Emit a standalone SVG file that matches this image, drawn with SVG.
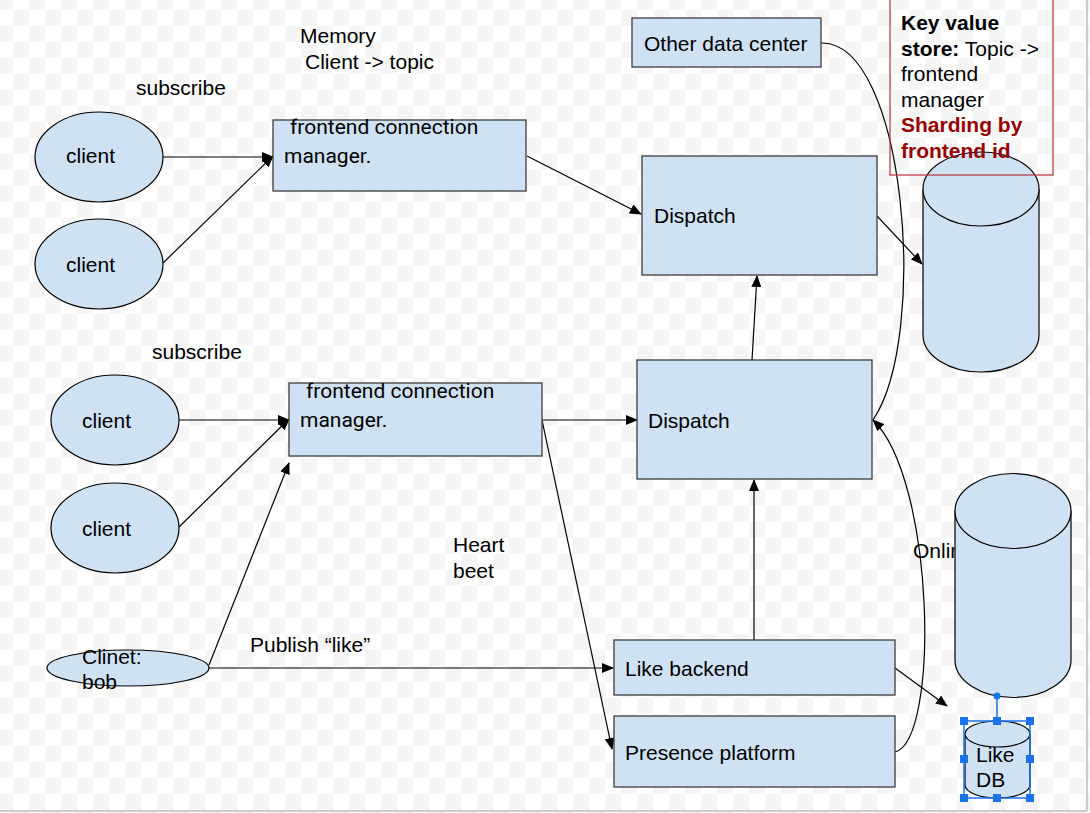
<svg xmlns="http://www.w3.org/2000/svg" width="1090" height="813" viewBox="0 0 1090 813">
<defs>
<pattern id="chk" x="-3" y="-6" width="32" height="32" patternUnits="userSpaceOnUse">
<rect width="32" height="32" fill="#ffffff"/>
<rect width="16" height="16" fill="#f5f5f5"/>
<rect x="16" y="16" width="16" height="16" fill="#f5f5f5"/>
</pattern>
<marker id="arr" markerWidth="12" markerHeight="10" refX="11" refY="5" orient="auto" markerUnits="userSpaceOnUse">
<path d="M0,0 L12,5 L0,10 Z" fill="#000"/>
</marker>
</defs>
<style>
.t{font-family:"Liberation Sans",Arial,sans-serif;font-size:21px;fill:#000}
.r{font-family:Roboto,"Liberation Sans",sans-serif;font-size:21px;fill:#000}
.box{fill:#cfe2f3;stroke:#3c3c3c;stroke-width:1.3}
.el{fill:#cfe2f3;stroke:#000;stroke-width:1.2}
.c{fill:none;stroke:#000;stroke-width:1.2}
.h{fill:#1a73e8}
</style>
<rect width="1090" height="813" fill="url(#chk)"/>
<line x1="1087" y1="0" x2="1087" y2="811" stroke="#bdbdbd" stroke-width="1.5"/>
<line x1="0" y1="811" x2="1087" y2="811" stroke="#bdbdbd" stroke-width="1.5"/>

<g id="labels">
<text class="t" x="300" y="43">Memory</text>
<text class="t" x="305" y="69">Client -&gt; topic</text>
<text class="t" x="136" y="95">subscribe</text>
<text class="t" x="152" y="359">subscribe</text>
<text class="t" x="453" y="552">Heart</text>
<text class="t" x="453" y="578">beet</text>
<text class="t" x="250" y="652">Publish “like”</text>
<text class="t" x="913" y="558">Online</text>
</g>

<g id="connectors">
<line class="c" x1="163" y1="157" x2="273" y2="157" marker-end="url(#arr)"/>
<line class="c" x1="163" y1="263" x2="273" y2="156" marker-end="url(#arr)"/>
<line class="c" x1="527" y1="156" x2="641" y2="214" marker-end="url(#arr)"/>
<line class="c" x1="877" y1="216" x2="922" y2="264" marker-end="url(#arr)"/>
<line class="c" x1="179" y1="420" x2="289" y2="420" marker-end="url(#arr)"/>
<line class="c" x1="179" y1="527" x2="289" y2="419" marker-end="url(#arr)"/>
<line class="c" x1="542" y1="420" x2="637" y2="420" marker-end="url(#arr)"/>
<line class="c" x1="752" y1="360" x2="757" y2="276" marker-end="url(#arr)"/>
<line class="c" x1="542" y1="420" x2="612" y2="749" marker-end="url(#arr)"/>
<line class="c" x1="209" y1="668" x2="613" y2="668" marker-end="url(#arr)"/>
<line class="c" x1="209" y1="665" x2="289" y2="463" marker-end="url(#arr)"/>
<line class="c" x1="754" y1="640" x2="754" y2="480" marker-end="url(#arr)"/>
<line class="c" x1="895" y1="668" x2="947" y2="706" marker-end="url(#arr)"/>
<path class="c" d="M821,43 C905,40 930,335 873,420"/>
<path class="c" d="M895,752 C940,740 935,480 873,420" marker-end="url(#arr)"/>
</g>

<g id="online-db">
<path class="el" d="M955,511 L955,660 A58,37.5 0 0 0 1071,660 L1071,511"/>
<ellipse class="el" cx="1013" cy="511" rx="58" ry="37.5"/>
</g>

<g id="kv-db">
<path class="el" d="M923,189 L923,335 A58,37 0 0 0 1039,335 L1039,189"/>
<ellipse class="el" cx="981" cy="189" rx="58" ry="37"/>
</g>

<g id="kv-note">
<rect x="890" y="-2" width="163" height="177" fill="none" stroke="#b7323a" stroke-width="1.2"/>
<text class="t" x="901" y="30" font-weight="bold">Key value</text>
<text class="t" x="901" y="56"><tspan font-weight="bold">store:</tspan> Topic -&gt;</text>
<text class="t" x="901" y="81">frontend</text>
<text class="t" x="901" y="107">manager</text>
<text class="t" x="901" y="132" font-weight="bold" style="fill:#980000">Sharding by</text>
<text class="t" x="901" y="158" font-weight="bold" style="fill:#980000">frontend id</text>
</g>

<g id="client1">
<ellipse class="el" cx="99" cy="157" rx="64" ry="45"/>
<text class="t" x="66" y="163">client</text>
</g>
<g id="client2">
<ellipse class="el" cx="99" cy="264" rx="64" ry="45"/>
<text class="t" x="66" y="272">client</text>
</g>
<g id="client3">
<ellipse class="el" cx="115" cy="420" rx="64" ry="45"/>
<text class="t" x="82" y="428">client</text>
</g>
<g id="client4">
<ellipse class="el" cx="115" cy="528" rx="64" ry="45"/>
<text class="t" x="82" y="536">client</text>
</g>
<g id="bob">
<ellipse class="el" cx="128" cy="668" rx="81" ry="18"/>
<text class="t" x="82" y="664">Clinet:</text>
<text class="t" x="82" y="689">bob</text>
</g>

<g id="frontend1">
<rect class="box" x="273" y="120" width="253" height="71"/>
<text class="r" x="290" y="134">frontend connection</text>
<text class="r" x="284" y="163">manager.</text>
</g>
<g id="frontend2">
<rect class="box" x="289" y="383" width="253" height="73"/>
<text class="r" x="306" y="398">frontend connection</text>
<text class="r" x="300" y="427">manager.</text>
</g>

<g id="other-dc">
<rect class="box" x="632" y="18" width="189" height="49"/>
<text class="t" x="644" y="51">Other data center</text>
</g>
<g id="dispatch1">
<rect class="box" x="642" y="156" width="235" height="119"/>
<text class="t" x="654" y="223">Dispatch</text>
</g>
<g id="dispatch2">
<rect class="box" x="637" y="360" width="235" height="119"/>
<text class="t" x="648" y="428">Dispatch</text>
</g>
<g id="like-backend">
<rect class="box" x="614" y="640" width="281" height="55"/>
<text class="t" x="625" y="676">Like backend</text>
</g>
<g id="presence">
<rect class="box" x="614" y="716" width="281" height="71"/>
<text class="t" x="625" y="760">Presence platform</text>
</g>

<g id="like-db">
<path class="el" d="M965,734 L965,785 A32.5,13 0 0 0 1030,785 L1030,734"/>
<ellipse class="el" cx="997.5" cy="734" rx="32.5" ry="13"/>
<text class="t" x="976" y="762">Like</text>
<text class="t" x="976" y="787">DB</text>
<rect x="964" y="721" width="66" height="77" fill="none" stroke="#1a73e8" stroke-width="1.5"/>
<line x1="997" y1="697" x2="997" y2="721" stroke="#1a73e8" stroke-width="1.5"/>
<circle class="h" cx="997" cy="696" r="3.5"/>
<rect class="h" x="960" y="717" width="8" height="8"/>
<rect class="h" x="993" y="717" width="8" height="8"/>
<rect class="h" x="1026" y="717" width="8" height="8"/>
<rect class="h" x="960" y="755" width="8" height="8"/>
<rect class="h" x="1026" y="755" width="8" height="8"/>
<rect class="h" x="960" y="794" width="8" height="8"/>
<rect class="h" x="993" y="794" width="8" height="8"/>
<rect class="h" x="1026" y="794" width="8" height="8"/>
</g>
</svg>
